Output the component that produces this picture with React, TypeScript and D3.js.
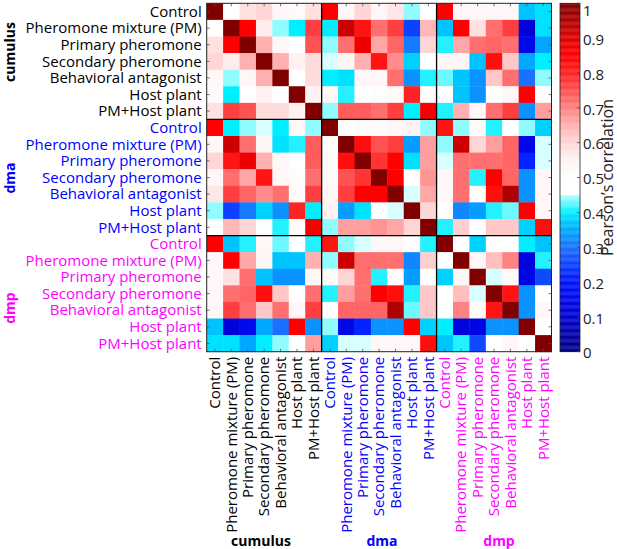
import { useEffect, useRef } from 'react';
import * as d3 from 'd3';

const groups = ['cumulus', 'dma', 'dmp'];
const conditions = [
  'Control',
  'Pheromone mixture (PM)',
  'Primary pheromone',
  'Secondary pheromone',
  'Behavioral antagonist',
  'Host plant',
  'PM+Host plant',
];
const groupColors = ['#000000', '#0000ff', '#ff00ff'];

// upper triangle of the correlation matrix, row i holds columns i+1..20
const corrUpper: number[][] = [
  [0.5, 0.58, 0.6, 0.53, 0.52, 0.58, 0.85, 0.53, 0.6, 0.53, 0.57, 0.44, 0.5, 0.85, 0.53, 0.53, 0.53, 0.53, 0.37, 0.39],
  [0.85, 0.56, 0.44, 0.4, 0.77, 0.4, 0.92, 0.82, 0.72, 0.77, 0.25, 0.64, 0.37, 0.85, 0.58, 0.72, 0.77, 0.12, 0.39],
  [0.65, 0.53, 0.5, 0.75, 0.44, 0.72, 0.88, 0.66, 0.73, 0.31, 0.6, 0.41, 0.66, 0.72, 0.73, 0.72, 0.16, 0.35],
  [0.65, 0.55, 0.59, 0.45, 0.54, 0.65, 0.82, 0.69, 0.38, 0.5, 0.53, 0.54, 0.37, 0.83, 0.62, 0.35, 0.4],
  [0.5, 0.59, 0.4, 0.39, 0.53, 0.53, 0.72, 0.33, 0.41, 0.43, 0.37, 0.33, 0.62, 0.72, 0.3, 0.44],
  [0.55, 0.53, 0.41, 0.5, 0.51, 0.52, 0.8, 0.51, 0.5, 0.37, 0.33, 0.5, 0.53, 0.85, 0.5],
  [0.44, 0.74, 0.74, 0.72, 0.77, 0.4, 0.86, 0.41, 0.65, 0.53, 0.72, 0.77, 0.33, 0.67],
  [0.51, 0.52, 0.52, 0.53, 0.55, 0.44, 0.82, 0.44, 0.52, 0.41, 0.5, 0.44, 0.38],
  [0.83, 0.75, 0.77, 0.34, 0.67, 0.44, 0.92, 0.6, 0.67, 0.73, 0.15, 0.45],
  [0.78, 0.85, 0.39, 0.67, 0.45, 0.72, 0.72, 0.72, 0.73, 0.22, 0.45],
  [0.85, 0.5, 0.68, 0.53, 0.72, 0.41, 0.85, 0.73, 0.33, 0.53],
  [0.45, 0.66, 0.53, 0.72, 0.51, 0.83, 0.95, 0.33, 0.53],
  [0.6, 0.5, 0.32, 0.34, 0.41, 0.43, 0.85, 0.53],
  [0.41, 0.61, 0.5, 0.62, 0.62, 0.38, 0.83],
  [0.5, 0.38, 0.5, 0.5, 0.4, 0.37],
  [0.53, 0.63, 0.7, 0.13, 0.41],
  [0.45, 0.52, 0.14, 0.26],
  [0.82, 0.33, 0.5],
  [0.33, 0.53],
  [0.5],
  [],
];

const cbTicks = d3.range(0, 11).map((d) => d / 10);

const colorStops = [0, 0.1, 0.2, 0.3, 0.35, 0.4, 0.449, 0.451, 0.5, 0.55, 0.6, 0.65, 0.7, 0.75, 0.8, 0.85, 0.9, 0.95, 1];
const colorRange = [
  '#000080', '#0000d0', '#0010ff', '#1a70ff', '#00a8ff', '#00eeff', '#b0ffff',
  '#ffffff', '#ffffff', '#fff2f2', '#ffd6d6', '#ffb0b0', '#ff8282', '#ff5252',
  '#ff2222', '#ff0000', '#e00000', '#b00000', '#800000',
];

const W = 617;
const H = 549;
const FONT = "'Open Sans', 'Noto Sans', sans-serif";

export default function App() {
  const svgRef = useRef<SVGSVGElement>(null);

  useEffect(() => {
    if (!svgRef.current) return;
    const n = corrUpper.length;
    const matrix: number[][] = d3.range(n).map(() => d3.range(n).map(() => 1));
    corrUpper.forEach((row, i) => {
      row.forEach((v, k) => {
        const j = i + 1 + k;
        matrix[i][j] = v;
        matrix[j][i] = v;
      });
    });

    const labels = groups.flatMap((g, gi) =>
      conditions.map((c) => ({ id: `${g}-${c}`, name: c, group: gi }))
    );

    const left = 206.7;
    const top = 3.3;
    const right = 551.5;
    const bottom = 351.7;

    const x = d3.scaleBand().domain(labels.map((d) => d.id)).range([left, right]);
    const y = d3.scaleBand().domain(labels.map((d) => d.id)).range([top, bottom]);
    const color = d3
      .scaleLinear<string>()
      .domain(colorStops)
      .range(colorRange)
      .interpolate(d3.interpolateRgb)
      .clamp(true);

    const svg = d3.select(svgRef.current);
    svg.selectAll('*').remove();

    const cells = labels.flatMap((r, i) =>
      labels.map((c, j) => ({ r: r.id, c: c.id, v: matrix[i][j] }))
    );

    svg
      .append('g')
      .selectAll('rect')
      .data(cells)
      .enter()
      .append('rect')
      .attr('x', (d) => x(d.c)!)
      .attr('y', (d) => y(d.r)!)
      .attr('width', x.bandwidth() + 0.4)
      .attr('height', y.bandwidth() + 0.4)
      .attr('fill', (d) => color(d.v));

    // inward ticks on all four sides
    const tk = svg.append('g').attr('stroke', '#555').attr('stroke-width', 0.8);
    labels.forEach((d) => {
      const cx = x(d.id)! + x.bandwidth() / 2;
      const cy = y(d.id)! + y.bandwidth() / 2;
      tk.append('line').attr('x1', cx).attr('x2', cx).attr('y1', top).attr('y2', top + 3);
      tk.append('line').attr('x1', cx).attr('x2', cx).attr('y1', bottom).attr('y2', bottom - 3);
      tk.append('line').attr('x1', left).attr('x2', left + 3).attr('y1', cy).attr('y2', cy);
      tk.append('line').attr('x1', right).attr('x2', right - 3).attr('y1', cy).attr('y2', cy);
    });

    // block separators
    const sep = svg.append('g').attr('stroke', '#000').attr('stroke-width', 1.3);
    [1, 2].forEach((b) => {
      const id = labels[b * conditions.length].id;
      sep.append('line').attr('x1', x(id)!).attr('x2', x(id)!).attr('y1', top).attr('y2', bottom);
      sep.append('line').attr('x1', left).attr('x2', right).attr('y1', y(id)!).attr('y2', y(id)!);
    });

    svg
      .append('rect')
      .attr('x', left)
      .attr('y', top)
      .attr('width', right - left)
      .attr('height', bottom - top)
      .attr('fill', 'none')
      .attr('stroke', '#222')
      .attr('stroke-width', 1);

    // row labels
    svg
      .append('g')
      .selectAll('text')
      .data(labels)
      .enter()
      .append('text')
      .attr('x', left - 5)
      .attr('y', (d) => y(d.id)! + y.bandwidth() / 2)
      .attr('dy', '0.35em')
      .attr('text-anchor', 'end')
      .attr('font-family', FONT)
      .attr('font-size', 15)
      .attr('fill', (d) => groupColors[d.group])
      .text((d) => d.name);

    // column labels
    svg
      .append('g')
      .selectAll('text')
      .data(labels)
      .enter()
      .append('text')
      .attr(
        'transform',
        (d) => `translate(${x(d.id)! + x.bandwidth() / 2}, ${bottom + 5}) rotate(-90)`
      )
      .attr('dy', '0.35em')
      .attr('text-anchor', 'end')
      .attr('font-family', FONT)
      .attr('font-size', 15)
      .attr('fill', (d) => groupColors[d.group])
      .text((d) => d.name);

    // group labels
    const leftGroupY = [52, 178, 308];
    const bottomGroupX = [261, 382, 499];
    groups.forEach((g, gi) => {
      svg
        .append('text')
        .attr('transform', `translate(10, ${leftGroupY[gi]}) rotate(-90)`)
        .attr('dy', '0.35em')
        .attr('text-anchor', 'middle')
        .attr('font-family', FONT)
        .attr('font-weight', 700)
        .attr('font-size', 14)
        .attr('fill', groupColors[gi])
        .text(g);
      svg
        .append('text')
        .attr('x', bottomGroupX[gi])
        .attr('y', 546)
        .attr('text-anchor', 'middle')
        .attr('font-family', FONT)
        .attr('font-weight', 700)
        .attr('font-size', 14)
        .attr('fill', groupColors[gi])
        .text(g);
    });

    // colorbar
    const cbX = 560;
    const cbW = 20;
    const cy = d3.scaleLinear().domain([0, 1]).range([bottom, top]);
    const steps = d3.range(0, 1, 0.0025);
    svg
      .append('g')
      .selectAll('rect')
      .data(steps)
      .enter()
      .append('rect')
      .attr('x', cbX)
      .attr('width', cbW)
      .attr('y', (d) => cy(d + 0.0025))
      .attr('height', (d) => cy(d) - cy(d + 0.0025) + 0.3)
      .attr('fill', (d) => color(d + 0.00125));
    svg
      .append('rect')
      .attr('x', cbX)
      .attr('y', top)
      .attr('width', cbW)
      .attr('height', bottom - top)
      .attr('fill', 'none')
      .attr('stroke', '#222')
      .attr('stroke-width', 0.8);

    const cbAxis = svg.append('g');
    cbTicks.forEach((t) => {
      cbAxis
        .append('line')
        .attr('x1', cbX + cbW - 3)
        .attr('x2', cbX + cbW)
        .attr('y1', cy(t))
        .attr('y2', cy(t))
        .attr('stroke', '#444')
        .attr('stroke-width', 0.8);
      cbAxis
        .append('text')
        .attr('x', cbX + cbW + 3)
        .attr('y', Math.max(cy(t) + 1.5, 10.5))
        .attr('dy', '0.35em')
        .attr('font-family', FONT)
        .attr('font-size', 15)
        .attr('fill', '#222')
        .text(d3.format('~g')(t));
    });

    svg
      .append('text')
      .attr('transform', `translate(607, ${(top + bottom) / 2}) rotate(-90)`)
      .attr('dy', '0.35em')
      .attr('text-anchor', 'middle')
      .attr('font-family', FONT)
      .attr('font-size', 16)
      .attr('fill', '#222')
      .text('Pearson\u2019s correlation');
  }, []);

  return (
    <svg
      ref={svgRef}
      width={W}
      height={H}
      style={{ position: 'absolute', left: 0, top: 0, background: '#fff' }}
      role="img"
      aria-label="Pearson's correlation matrix"
    />
  );
}
